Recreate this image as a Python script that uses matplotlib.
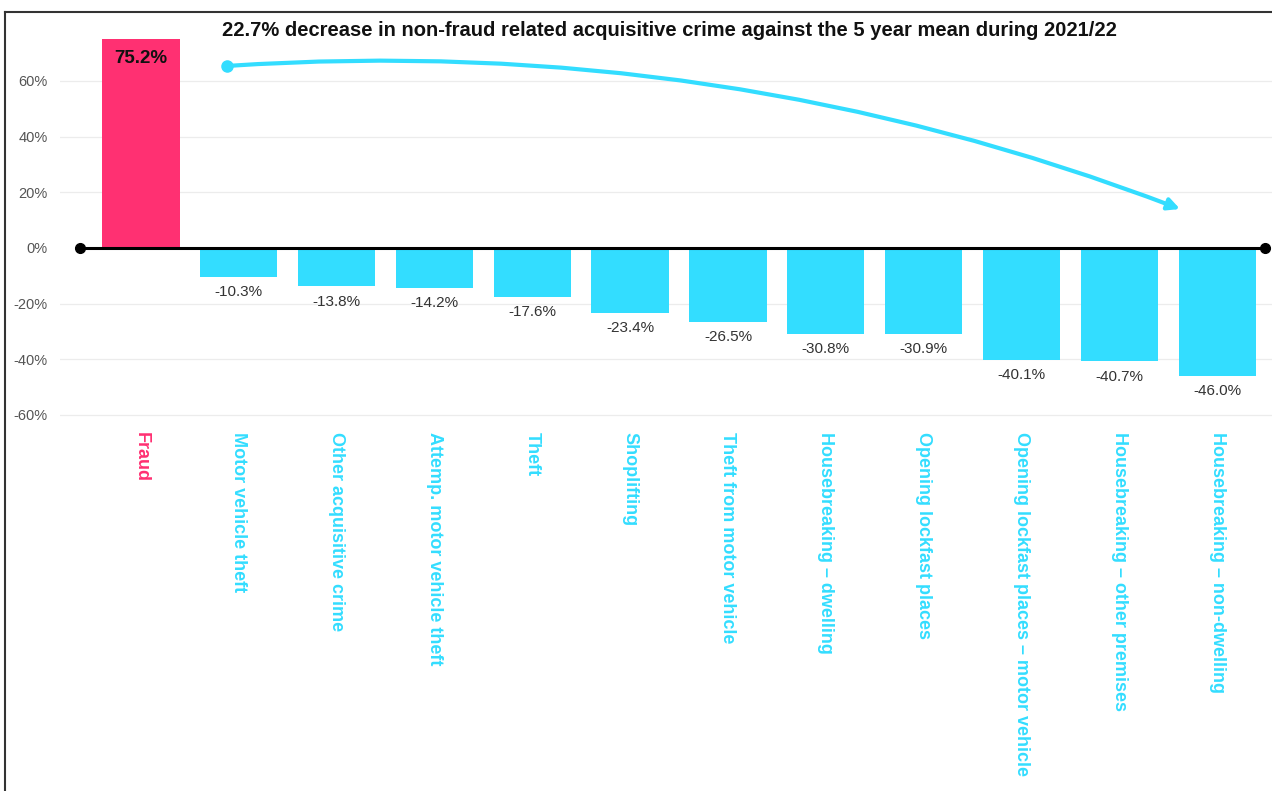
import matplotlib
matplotlib.use("Agg")
import matplotlib.pyplot as plt
from matplotlib.lines import Line2D
import numpy as np

plt.rcParams["font.family"] = ["Liberation Sans", "DejaVu Sans"]

CATS = ["Fraud", "Motor vehicle theft", "Other acquisitive crime", "Attemp. motor vehicle theft",
        "Theft", "Shoplifting", "Theft from motor vehicle", "Housebreaking \u2013 dwelling",
        "Opening lockfast places", "Opening lockfast places \u2013 motor vehicle",
        "Housebreaking \u2013 other premises", "Housebreaking \u2013 non-dwelling"]
VALUES = [75.2, -10.3, -13.8, -14.2, -17.6, -23.4, -26.5, -30.8, -30.9, -40.1, -40.7, -46.0]
YTICKS = [-60, -40, -20, 0, 20, 40, 60]
TITLE = "22.7% decrease in non-fraud related acquisitive crime against the 5 year mean during 2021/22"
PINK, CYAN = "#FF3072", "#33DDFF"

W, H = 1272, 791
fig = plt.figure(figsize=(W / 100, H / 100), dpi=100)
# axes placed in pixel terms: left 60px, top 14px, bottom 425px
ax = fig.add_axes([60 / W, 1 - 425 / H, 1 - 60 / W, (425 - 14) / H])
ax.set_xlim(-0.827, 11.56)
ax.set_ylim(-63.6, 84.07)

x = np.arange(len(CATS))
cols = [PINK if v > 0 else CYAN for v in VALUES]
ax.bar(x, VALUES, width=0.79, color=cols, zorder=2)

for yt in YTICKS:
    if yt != 0:
        ax.axhline(yt, color="#ececec", lw=0.9, zorder=0)
ax.plot([-0.62, 11.49], [0, 0], color="black", lw=2.2, zorder=3)
ax.plot([-0.62, 11.49], [0, 0], "o", color="black", ms=7, zorder=4)

for xi, v in zip(x, VALUES):
    if v > 0:
        ax.annotate(f"{v:.1f}%", (xi, v), xytext=(0, -8), textcoords="offset points",
                    ha="center", va="top", fontsize=13.5, fontweight="bold", color="#111111")
    else:
        ax.annotate(f"{v:.1f}%", (xi, v), xytext=(0, -6), textcoords="offset points",
                    ha="center", va="top", fontsize=11, color="#333333")

# category labels, rotated, below the axis
for xi, c, col in zip(x, CATS, cols):
    ax.text(xi, -66.0, c, rotation=-90, ha="center", va="top", fontsize=13,
            fontweight="bold", color=col)

ax.set_yticks(YTICKS)
ax.set_yticklabels([f"{t}%" for t in YTICKS], fontsize=10.5, color="#555555")
ax.tick_params(axis="y", length=0, pad=9)
ax.set_xticks([])
for s in ax.spines.values():
    s.set_visible(False)

# trend arrow
ax.plot([0.88], [65.4], "o", color=CYAN, ms=8, zorder=5)
ax.annotate("", xy=(10.62, 14.0), xytext=(0.88, 65.4),
            arrowprops=dict(arrowstyle="-|>,head_length=0.7,head_width=0.35", color=CYAN, lw=3,
                            connectionstyle="arc3,rad=-0.11", shrinkA=0, shrinkB=0), zorder=5)

fig.text(222 / W, 1 - 30 / H, TITLE, ha="left", va="center", fontsize=14.5,
         fontweight="bold", color="#111111")

# screenshot frame
fig.add_artist(Line2D([5 / W, 1], [1 - 12 / H, 1 - 12 / H], color="#333333", lw=1.5))
fig.add_artist(Line2D([5 / W, 5 / W], [0, 1 - 12 / H], color="#333333", lw=1.5))

fig.savefig("out.png", dpi=100)
